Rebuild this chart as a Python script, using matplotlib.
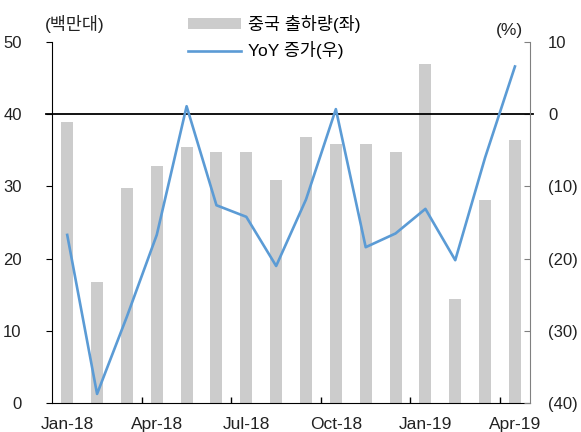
import matplotlib
matplotlib.use('Agg')
import matplotlib.pyplot as plt
import numpy as np
from matplotlib.patches import Patch
from matplotlib.lines import Line2D

plt.rcParams['font.family'] = ['Liberation Sans', 'Noto Sans CJK KR']

# monthly data, Jan-18 .. Apr-19
months = ['Jan-18', 'Feb-18', 'Mar-18', 'Apr-18', 'May-18', 'Jun-18', 'Jul-18', 'Aug-18',
          'Sep-18', 'Oct-18', 'Nov-18', 'Dec-18', 'Jan-19', 'Feb-19', 'Mar-19', 'Apr-19']
shipments = [38.9, 16.8, 29.8, 32.8, 35.4, 34.8, 34.8, 30.9,
             36.9, 35.9, 35.9, 34.8, 46.9, 14.4, 28.1, 36.4]
yoy = [-16.7, -38.7, -28.0, -16.7, 1.1, -12.6, -14.2, -21.0,
       -11.8, 0.7, -18.4, -16.5, -13.1, -20.2, -6.0, 6.6]

left_ticks = [0, 10, 20, 30, 40, 50]
right_ticks = [-40, -30, -20, -10, 0, 10]
right_labels = ['(40)', '(30)', '(20)', '(10)', '0', '10']

bar_color = '#CCCCCC'
line_color = '#5B9BD5'

fig = plt.figure(figsize=(5.81, 4.32), dpi=100)
ax = fig.add_axes([0.090, 0.0664, 0.822, 0.8366])
ax2 = ax.twinx()

x = np.arange(len(months))
ax.bar(x, shipments, width=0.4, color=bar_color, zorder=1)
ax2.plot(x, yoy, color=line_color, linewidth=1.9, zorder=3)
ax2.axhline(0, xmin=-0.014, xmax=1.006, color='black', linewidth=1.3, clip_on=False, zorder=2)

ax.set_xlim(-0.5, len(months) - 0.5)
ax.set_ylim(0, 50)
ax2.set_ylim(-40, 10)

ax.set_yticks(left_ticks)
ax.set_yticklabels([str(v) for v in left_ticks], fontsize=12, color='#222222')
ax2.set_yticks(right_ticks)
ax2.set_yticklabels(right_labels, fontsize=12, color='#222222')

# labels on every third month, tick marks between quarters
ax.set_xticks(x[::3])
ax.set_xticklabels(months[::3], fontsize=12.5, color='#222222')
ax.set_xticks(np.arange(2.5, len(months) - 1, 3), minor=True)
ax.tick_params(axis='x', which='major', length=0, pad=10)
ax.tick_params(axis='x', which='minor', direction='in', length=4, width=1)
ax.tick_params(axis='y', direction='out', length=4, width=0.8, pad=18)
ax2.tick_params(axis='y', direction='in', length=4, width=0.8, color='#808080', pad=13)

for a in (ax, ax2):
    a.spines['top'].set_visible(False)
ax.spines['left'].set_color('black')
ax.spines['bottom'].set_color('black')
ax2.spines['right'].set_color('#808080')
ax2.spines['left'].set_visible(False)
ax2.spines['bottom'].set_visible(False)
ax.spines['right'].set_visible(False)

fig.text(0.077, 0.944, '(백만대)', fontsize=12.5, color='#222222', va='center', ha='left')
fig.text(0.853, 0.930, '(%)', fontsize=12.5, color='#222222', va='center', ha='left')

handles = [Patch(facecolor=bar_color, edgecolor='none'),
           Line2D([0], [0], color=line_color, linewidth=1.9)]
fig.legend(handles, ['중국 출하량(좌)', 'YoY 증가(우)'], loc='upper left',
           bbox_to_anchor=(0.305, 0.99), frameon=False, fontsize=12.5,
           handlelength=3.1, handleheight=0.6, handletextpad=0.35, labelspacing=0.5,
           borderaxespad=0.2)

fig.savefig('out.png', dpi=100)
